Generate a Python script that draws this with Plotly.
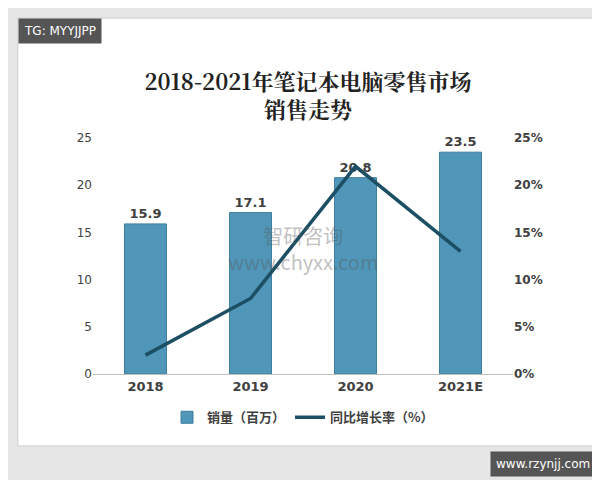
import plotly.graph_objects as go

years = ["2018", "2019", "2020", "2021E"]
sales = [15.9, 17.1, 20.8, 23.5]
growth = [2.0, 8.0, 22.0, 13.0]
left_ticks = [0, 5, 10, 15, 20, 25]
right_ticks = [0, 5, 10, 15, 20, 25]

fig = go.Figure()
fig.add_trace(go.Bar(x=years, y=sales, name="<b>销量（百万）</b>", text=[f"<b>{v}</b>" for v in sales],
                     textposition="outside", textfont=dict(size=13, color="#404040", family="DejaVu Sans"),
                     marker=dict(color="#4f96b8", line=dict(color="#3f7f9f", width=1)), width=0.4, cliponaxis=False))
fig.add_trace(go.Scatter(x=years, y=growth, name="<b>同比增长率（%）</b>", yaxis="y2", mode="lines",
                         line=dict(color="#1d4f64", width=3.5)))

fig.update_layout(
    width=600, height=480, paper_bgcolor="#e6e6e6", plot_bgcolor="white",
    margin=dict(l=85, r=95, t=130, b=114),
    title=dict(text="<b>2018-2021年笔记本电脑零售市场<br>销售走势</b>", x=0.5, y=0.83, xanchor="center", yanchor="middle",
               font=dict(size=22, family="Noto Serif CJK SC, Noto Sans CJK SC", color="#222")),
    font=dict(family="DejaVu Sans", size=12, color="#404040"),
    xaxis=dict(showline=True, linecolor="#bfbfbf", tickfont=dict(size=13, color="#404040"), ticks="",
               tickprefix="<b>", ticksuffix="</b>"),
    yaxis=dict(range=[0, 25], tickvals=left_ticks, showgrid=False, zeroline=False, ticks="",
               tickprefix="<b>", ticksuffix="</b>"),
    yaxis2=dict(range=[0, 25], tickvals=right_ticks, ticktext=[f"<b>{t}%</b>" for t in right_ticks],
                overlaying="y", side="right", showgrid=False, zeroline=False),
    legend=dict(orientation="h", x=0.5, xanchor="center", y=-0.12, yanchor="top", bgcolor="rgba(0,0,0,0)",
                font=dict(size=13, family="Noto Sans CJK SC", color="#404040")),
    bargap=0.5,
    shapes=[dict(type="rect", xref="paper", yref="paper", x0=-0.179, x1=1.198, y0=-0.305, y1=1.508,
                 fillcolor="white", line=dict(color="#cccccc", width=1), layer="below")],
    annotations=[
        dict(text="TG: MYYJJPP", xref="paper", yref="paper", x=-0.179, y=1.51, xanchor="left", yanchor="top",
             showarrow=False, bgcolor="#555555", font=dict(color="white", size=12), borderpad=5),
        dict(text="www.rzynjj.com", xref="paper", yref="paper", x=1.198, y=-0.326, xanchor="right", yanchor="top",
             showarrow=False, bgcolor="#555555", font=dict(color="white", size=12), borderpad=5),
        dict(text="智研咨询<br>www.chyxx.com", xref="paper", yref="paper", x=0.5, y=0.53, showarrow=False,
             font=dict(size=20, color="rgba(90,90,90,0.4)", family="Noto Sans CJK SC")),
    ],
)
fig.write_html("out.html")
